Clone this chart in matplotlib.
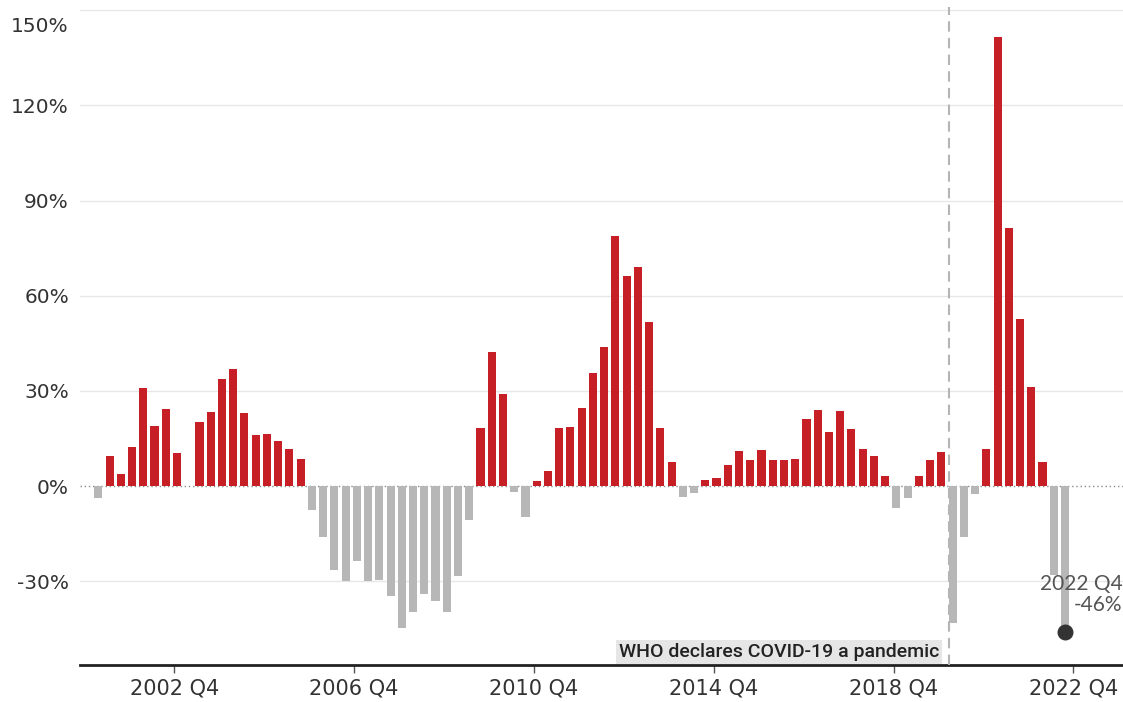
import numpy as np
import matplotlib
matplotlib.use("Agg")
import matplotlib.pyplot as plt
from matplotlib.transforms import ScaledTranslation

# quarterly change, 2001 Q2 .. 2022 Q4 (%)
start_year, start_q = 2001, 2
values = [
    -3.8, 9.4, 3.8, 12.3, 31.0, 18.8, 24.4, 10.5, 0.0, 20.2,
    23.4, 33.8, 36.9, 22.9, 16.0, 16.5, 14.1, 11.8, 8.5, -7.5,
    -15.9, -26.6, -29.8, -23.5, -29.8, -29.5, -34.5, -44.7, -39.6, -34.0,
    -36.3, -39.6, -28.4, -10.8, 18.3, 42.3, 28.9, -2.0, -9.9, 1.6,
    4.9, 18.2, 18.7, 24.7, 35.5, 43.9, 78.8, 66.2, 68.9, 51.8,
    18.4, 7.6, -3.3, -2.2, 2.0, 2.6, 6.7, 10.9, 8.1, 11.3,
    8.1, 8.1, 8.5, 21.1, 23.9, 17.1, 23.6, 17.9, 11.8, 9.4,
    3.1, -6.9, -3.8, 3.1, 8.1, 10.8, -43.3, -15.9, -2.4, 11.7,
    141.5, 81.3, 52.8, 31.3, 7.6, -28.0, -46.0,
]
quarters = []
y, q = start_year, start_q
for _ in values:
    quarters.append(f"{y} Q{q}")
    q += 1
    if q > 4:
        q, y = 1, y + 1

tick_labels = ["2002 Q4", "2006 Q4", "2010 Q4", "2014 Q4", "2018 Q4", "2022 Q4"]
ytick_vals = [-30, 0, 30, 60, 90, 120, 150]
covid_quarter = "2020 Q1"
last_label = "2022 Q4\n-46%"

RED = "#c62026"
GRAY = "#b7b7b7"

fig = plt.figure(figsize=(11.23, 7.02), dpi=100)
ax = fig.add_axes([80 / 1123, 37 / 702, 1043 / 1123, 658 / 702])

x = np.arange(len(values))
vals = np.array(values)
colors = [RED if v > 0 else GRAY for v in vals]
ax.bar(x, vals, width=0.72, color=colors, zorder=3)

ax.set_xlim(-1.63, 91.16)
ax.set_ylim(-56.4, 151)

# grid
for v in ytick_vals:
    if v != 0:
        ax.axhline(v, color="#e7e7e7", lw=1, zorder=1)
ax.axhline(0, color="#8a8a8a", lw=1, ls=(0, (1, 2)), zorder=2)

ax.set_yticks(ytick_vals)
ax.set_yticklabels([f"{v}%" for v in ytick_vals], fontsize=14.5, color="#333333")
ax.tick_params(axis="y", length=0, pad=8)
top = ax.get_yticklabels()[-1]
top.set_transform(top.get_transform() + ScaledTranslation(0, -10 / 72, fig.dpi_scale_trans))

tick_pos = [quarters.index(t) + 0.75 for t in tick_labels]
ax.set_xticks(tick_pos)
ax.set_xticklabels(tick_labels, fontsize=15, color="#333333")
ax.tick_params(axis="x", length=6, width=1, color="#555555", pad=4)

for s in ["top", "right", "left"]:
    ax.spines[s].set_visible(False)
ax.spines["bottom"].set_color("#222222")
ax.spines["bottom"].set_linewidth(2)

# covid line
ci = quarters.index(covid_quarter) + 0.68
ax.axvline(ci, color="#b5b5b5", lw=1.5, ls=(0, (5, 3)), zorder=4)
ax.text(ci - 0.9, -52.3, "WHO declares COVID-19 a pandemic", ha="right", va="center",
        fontsize=14, color="#222222", fontweight="medium",
        family=["Roboto", "DejaVu Sans"],
        bbox=dict(facecolor="#e6e6e6", edgecolor="none", pad=2.0), zorder=5)

# last point
last = len(values) - 1
ax.scatter([last], [vals[last]], s=110, color="#333333", zorder=6)
ax.text(91.1, -34.2, last_label, ha="right", va="center", fontsize=15,
        color="#555555", linespacing=1.1, family=["Lato", "DejaVu Sans"], zorder=6)

fig.savefig("out.png", dpi=100)
